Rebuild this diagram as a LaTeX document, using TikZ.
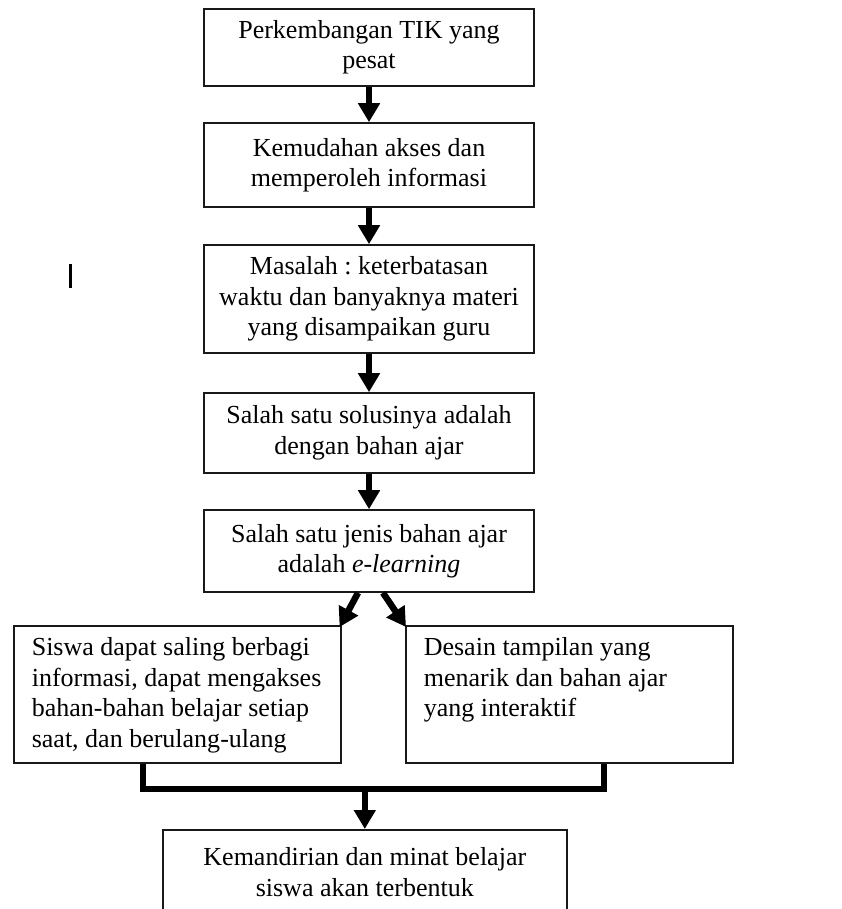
\documentclass[tikz,border=0pt]{standalone}
\usepackage{fontspec}
\setmainfont{Liberation Serif}
\usetikzlibrary{arrows.meta}
\frenchspacing

\begin{document}
\begin{tikzpicture}
    [
    x = 1pt, y = -1pt,
    every node/.style = {font = \fontsize{26}{30.5}\selectfont},
    ]
    \tikzstyle{main box}=[rectangle,draw=gray!20!black,line width=1.6pt,minimum width=330pt,inner sep=0pt,text width=322pt,align=flush center]
    \tikzstyle{side box}=[rectangle,draw=gray!20!black,line width=1.6pt,inner xsep=18pt,inner ysep=12pt,anchor=north west]
    \tikzstyle{flow arrow}=[line width=6.5pt,-{Triangle[width=21pt,length=19pt]}]
    \tikzstyle{join line}=[line width=6pt,line join=miter]

    \useasboundingbox (0,0) rectangle (841,909);
    \clip (0,0) rectangle (841,909);

    \node[main box,minimum height=77pt] (tik) at (369,47.5) {Perkembangan TIK yang\\pesat};
    \node[main box,minimum height=84pt] (akses) at (369,165) {Kemudahan akses dan\\memperoleh informasi};
    \node[main box,minimum height=108pt] (masalah) at (369,299) {Masalah : keterbatasan\\waktu dan banyaknya materi\\yang disampaikan guru};
    \node[main box,minimum height=80pt] (solusi) at (369,433) {Salah satu solusinya adalah\\dengan bahan ajar};
    \node[main box,minimum height=82pt] (jenis) at (369,551) {Salah satu jenis bahan ajar\\adalah \textit{e-learning}};

    \node[side box] (siswa) at (13,625) {\parbox[c][113pt][t]{291pt}{\raggedright
        Siswa dapat saling berbagi\\informasi, dapat mengakses\\bahan-bahan belajar setiap\\saat, dan berulang-ulang}};
    \node[side box] (desain) at (405,625) {\parbox[c][113pt][t]{291pt}{\raggedright
        Desain tampilan yang\\menarik dan bahan ajar\\yang interaktif}};

    \node[side box,inner xsep=10pt,inner ysep=18pt] (mandiri) at (162,829) {\parbox[c][74pt][t]{384pt}{\centering
        Kemandirian dan minat belajar\\siswa akan terbentuk}};

    % arrows down the middle
    \draw[flow arrow] (tik.south) -- (akses.north);
    \draw[flow arrow] (akses.south) -- (masalah.north);
    \draw[flow arrow] (masalah.south) -- (solusi.north);
    \draw[flow arrow] (solusi.south) -- (jenis.north);
    \draw[flow arrow] ([xshift=-11pt]jenis.south) -- ([xshift=-2pt,yshift=-2pt]siswa.north east);
    \draw[flow arrow] ([xshift=14pt]jenis.south) -- ([xshift=1pt,yshift=-2pt]desain.north west);

    % joining both boxes
    \coordinate (join left) at (143,789);
    \coordinate (join right) at (604,789);
    \draw[join line] (siswa.south -| join left) -- (join left) -- (join right) -- (desain.south -| join right);
    \draw[flow arrow] (mandiri.north |- join left) -- (mandiri.north);

    \draw[line width=3pt] (70,264) -- (70,288);
\end{tikzpicture}
\end{document}
